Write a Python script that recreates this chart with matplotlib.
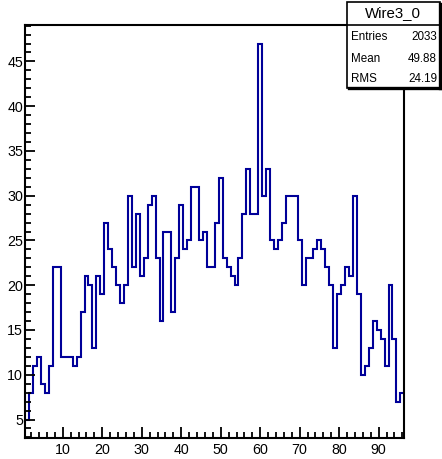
import numpy as np
import matplotlib
matplotlib.use("Agg")
import matplotlib.pyplot as plt
from matplotlib.patches import Rectangle
from matplotlib.lines import Line2D
from matplotlib.ticker import MultipleLocator

# ---- data ----
bin_low = 0.5
bin_high = 96.5
counts = [5, 8, 11, 12, 9, 8, 11, 22, 22, 12,
          12, 12, 11, 12, 17, 21, 20, 13, 21, 19,
          27, 24, 22, 20, 18, 20, 30, 22, 28, 21,
          23, 29, 30, 23, 16, 26, 26, 17, 23, 29,
          24, 25, 31, 31, 25, 26, 22, 22, 27, 32,
          23, 22, 21, 20, 23, 28, 33, 28, 28, 47,
          30, 33, 25, 24, 25, 27, 30, 30, 30, 25,
          20, 23, 23, 24, 25, 24, 22, 20, 13, 19,
          20, 22, 21, 30, 19, 10, 11, 13, 16, 15,
          14, 11, 20, 14, 7, 8]
title = "Wire3_0"
stat_names = ["Entries", "Mean", "RMS"]
stat_values = ["2033", "49.88", "24.19"]
x_ticks = [10, 20, 30, 40, 50, 60, 70, 80, 90]
y_ticks = [5, 10, 15, 20, 25, 30, 35, 40, 45]

plt.rcParams['font.family'] = ['Liberation Sans', 'DejaVu Sans']

W, H = 442, 459
fig = plt.figure(figsize=(W / 100, H / 100), dpi=100)
fig.patch.set_facecolor('white')

ax = fig.add_axes([25.3 / W, 1 - 438.3 / H, (404.3 - 25.3) / W, (438.3 - 24.7) / H])
edges = np.linspace(bin_low, bin_high, len(counts) + 1)
ax.stairs(counts, edges, baseline=None, color='#000099', linewidth=1.5)

ax.set_xlim(bin_low, bin_high)
ax.set_ylim(2.9, 49.1)
ax.set_xticks(x_ticks)
ax.set_yticks(y_ticks)
ax.xaxis.set_minor_locator(MultipleLocator(2))
ax.yaxis.set_minor_locator(MultipleLocator(1))
ax.tick_params(which='both', direction='in', top=False, right=False, width=1.3, color='black')
ax.tick_params(axis='x', which='major', length=8, pad=3.5, labelsize=10.3)
ax.tick_params(axis='x', which='minor', length=4)
ax.tick_params(axis='y', which='major', length=7.5, pad=1.5, labelsize=10.3)
ax.tick_params(axis='y', which='minor', length=4)
for s in ax.spines.values():
    s.set_linewidth(1.5)
    s.set_color('black')

# ---- stats box ----
bx0, bx1 = 346.7, 439.5
by0, by1 = 1.7, 87.5
sep = 24.7
def fx(x):
    return x / W
def fy(y):
    return 1 - y / H

fig.patches.append(Rectangle((fx(bx0), fy(by1)), fx(bx1) - fx(bx0), fy(by0) - fy(by1),
                             transform=fig.transFigure, facecolor='white',
                             edgecolor='black', linewidth=1.2, zorder=5))
# shadow lines (right & bottom)
fig.lines.append(Line2D([fx(bx1), fx(bx1)], [fy(by1), fy(by0 + 2)], transform=fig.transFigure,
                        color='black', linewidth=2.4, zorder=6))
fig.lines.append(Line2D([fx(bx0 + 2), fx(bx1)], [fy(by1), fy(by1)], transform=fig.transFigure,
                        color='black', linewidth=2.4, zorder=6))
fig.lines.append(Line2D([fx(bx0), fx(bx1)], [fy(sep), fy(sep)], transform=fig.transFigure,
                        color='black', linewidth=1.2, zorder=6))

fig.text(fx((bx0 + bx1) / 2), fy(13.5), title, ha='center', va='center', fontsize=10.8, zorder=7)
row_y = [37.5, 59.5, 78.5]
for name, val, ry in zip(stat_names, stat_values, row_y):
    fig.text(fx(350.5), fy(ry), name, ha='left', va='center', fontsize=8.4, zorder=7)
    fig.text(fx(437), fy(ry), val, ha='right', va='center', fontsize=8.4, zorder=7)

fig.savefig('out.png', dpi=100)
